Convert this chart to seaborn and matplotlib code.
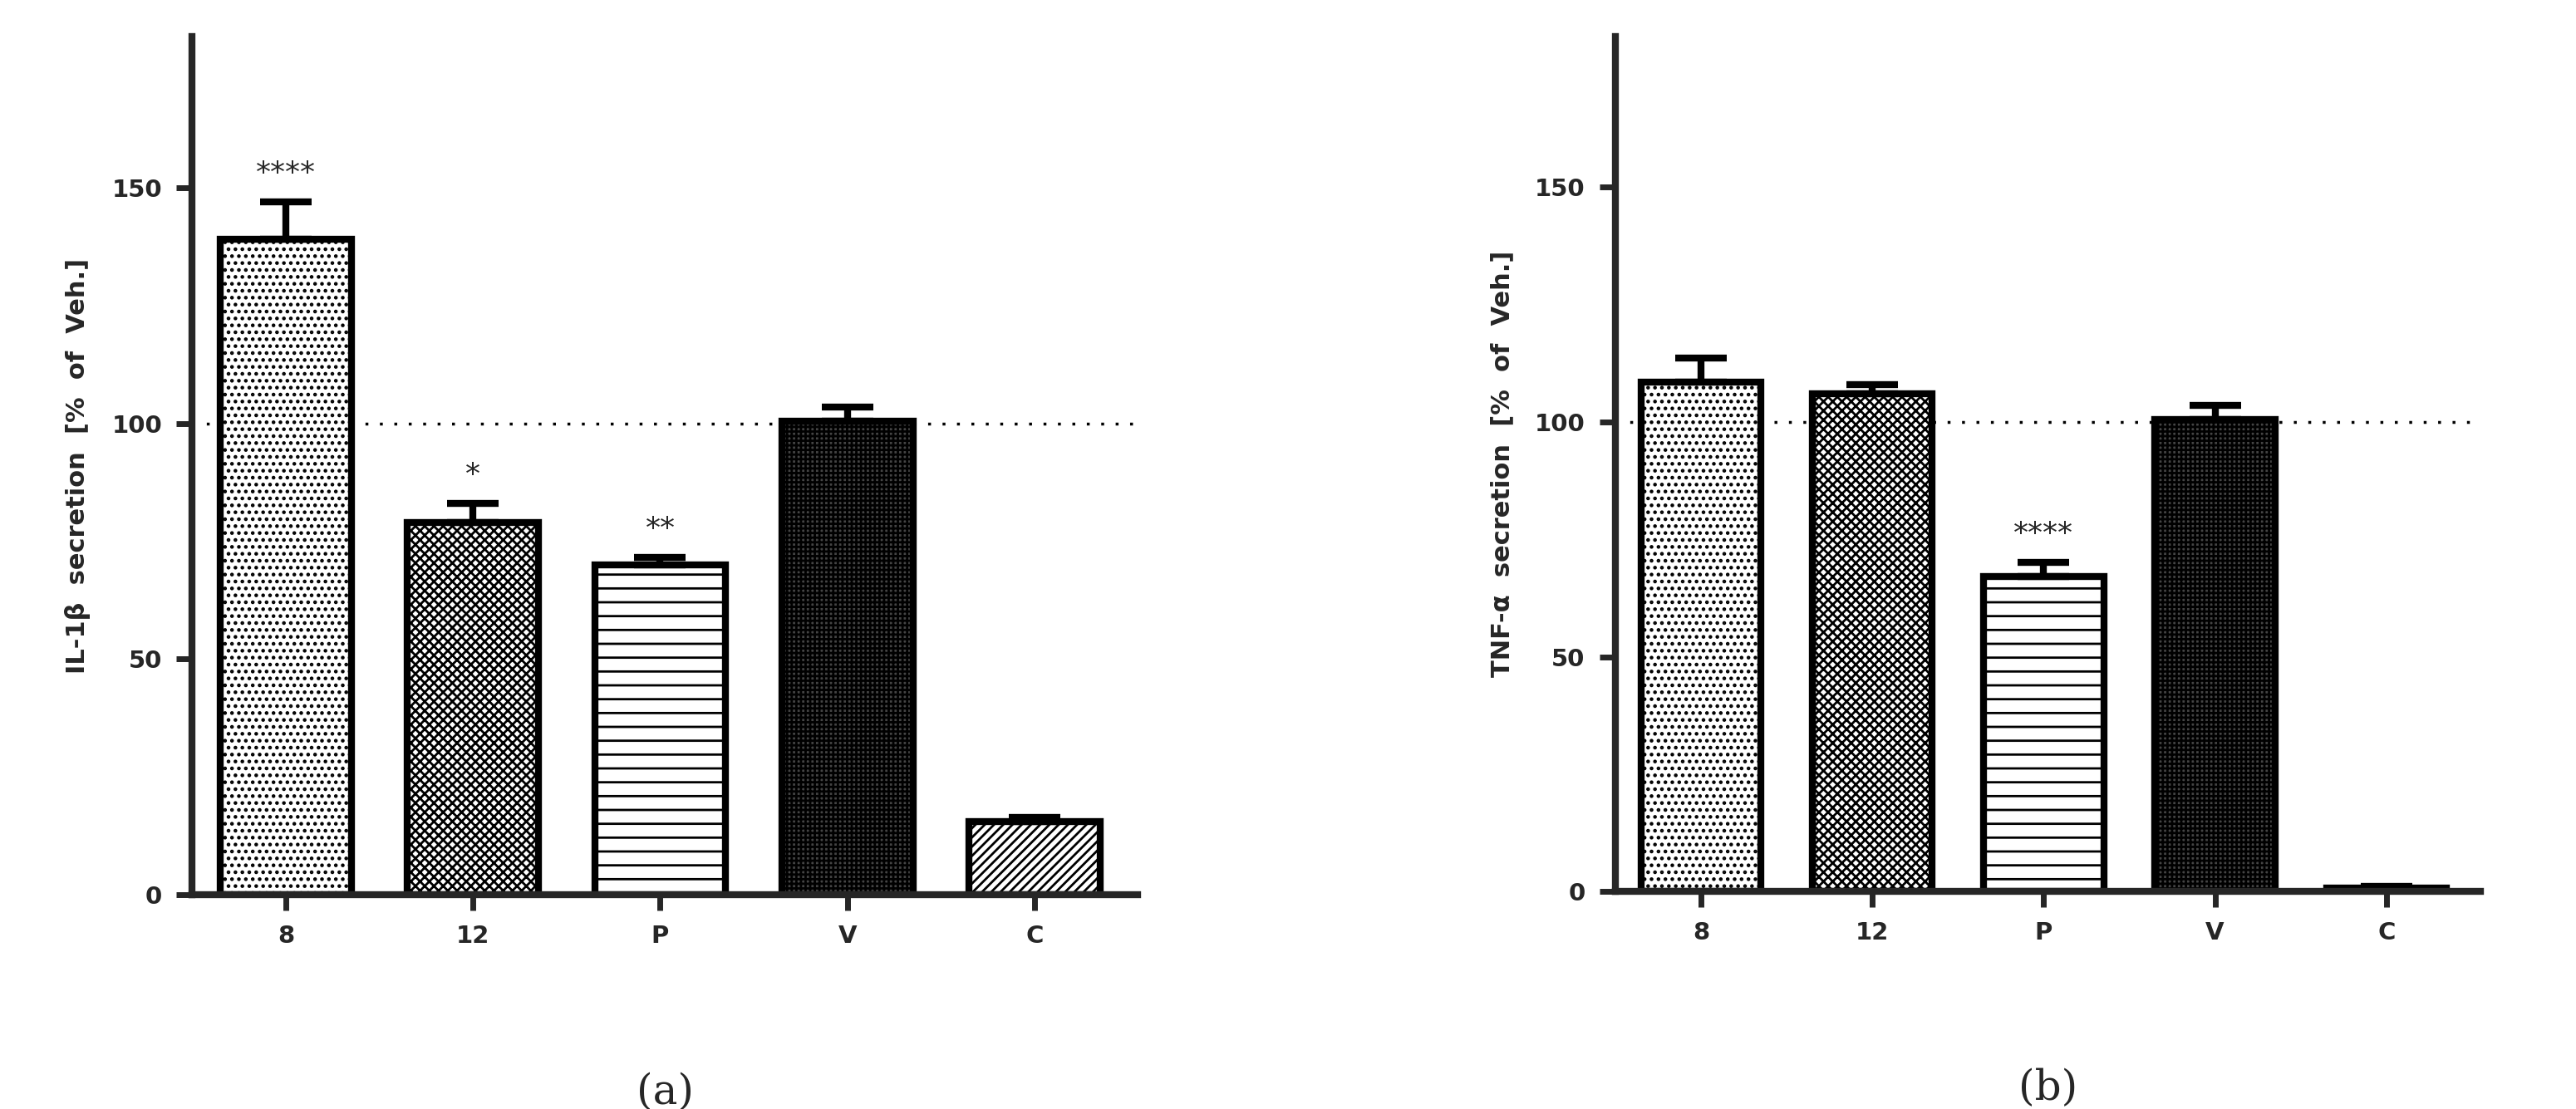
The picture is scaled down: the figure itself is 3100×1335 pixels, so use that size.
import matplotlib
matplotlib.use("Agg")
import matplotlib.pyplot as plt
import numpy as np
import pandas as pd
import seaborn as sns

groups = ["8", "12", "P", "V", "C"]
il1b_mean = [139, 79, 70, 100.5, 15.5]
il1b_err = [8, 4, 1.5, 3, 1]
il1b_stars = ["****", "*", "**", "", ""]
tnf_mean = [108.5, 106, 67, 100.5, 0.8]
tnf_err = [5, 2, 3, 3, 0.4]
tnf_stars = ["", "", "****", "", ""]
hatches = ["..", "xxx", "-", "+++", "///"]
facecols = ["white", "white", "white", "#444444", "white"]

sns.set_style("ticks")
plt.rcParams["hatch.linewidth"] = 2.0
fig = plt.figure(figsize=(31, 13.35), dpi=100)


def panel(rect, means, errs, stars, ylabel, letter):
    ax = fig.add_axes(rect)
    df = pd.DataFrame({"g": groups, "v": means})
    sns.barplot(data=df, x="g", y="v", color="white", width=0.7,
                edgecolor="black", linewidth=6, ax=ax)
    for p, h, fc in zip(ax.patches, hatches, facecols):
        p.set_hatch(h)
        p.set_facecolor(fc)
    x = np.arange(len(groups))
    ax.errorbar(x, means, yerr=[np.zeros(len(errs)), errs], fmt="none",
                ecolor="black", elinewidth=6, capsize=22, capthick=6, zorder=1)
    for xi, m, e, s in zip(x, means, errs, stars):
        if s:
            ax.text(xi, m + e + 3, s, ha="center", va="bottom", fontsize=26)
    ax.axhline(100, color="black", linestyle=(0, (1, 4)), linewidth=2.5, zorder=0)
    ax.set_ylim(0, 182)
    ax.set_xlim(-0.5, 4.55)
    ax.set_yticks([0, 50, 100, 150])
    ax.set_xlabel("")
    ax.set_ylabel(ylabel, fontsize=22, fontweight="bold", labelpad=18)
    ax.tick_params(width=5, length=14, labelsize=21, pad=12)
    for t in ax.get_xticklabels() + ax.get_yticklabels():
        t.set_fontweight("bold")
    for s in ["left", "bottom"]:
        ax.spines[s].set_linewidth(6)
    sns.despine(ax=ax)
    ax.text(0.5, -0.23, letter, transform=ax.transAxes, ha="center", va="center",
            fontsize=36, family="DejaVu Serif")
    return ax


panel([0.0746, 0.193, 0.367, 0.774], il1b_mean, il1b_err, il1b_stars,
      "IL-1β  secretion  [%  of  Veh.]", "(a)")
panel([0.627, 0.196, 0.336, 0.771], tnf_mean, tnf_err, tnf_stars,
      "TNF-α  secretion  [%  of  Veh.]", "(b)")

fig.savefig("out.png", dpi=100)
